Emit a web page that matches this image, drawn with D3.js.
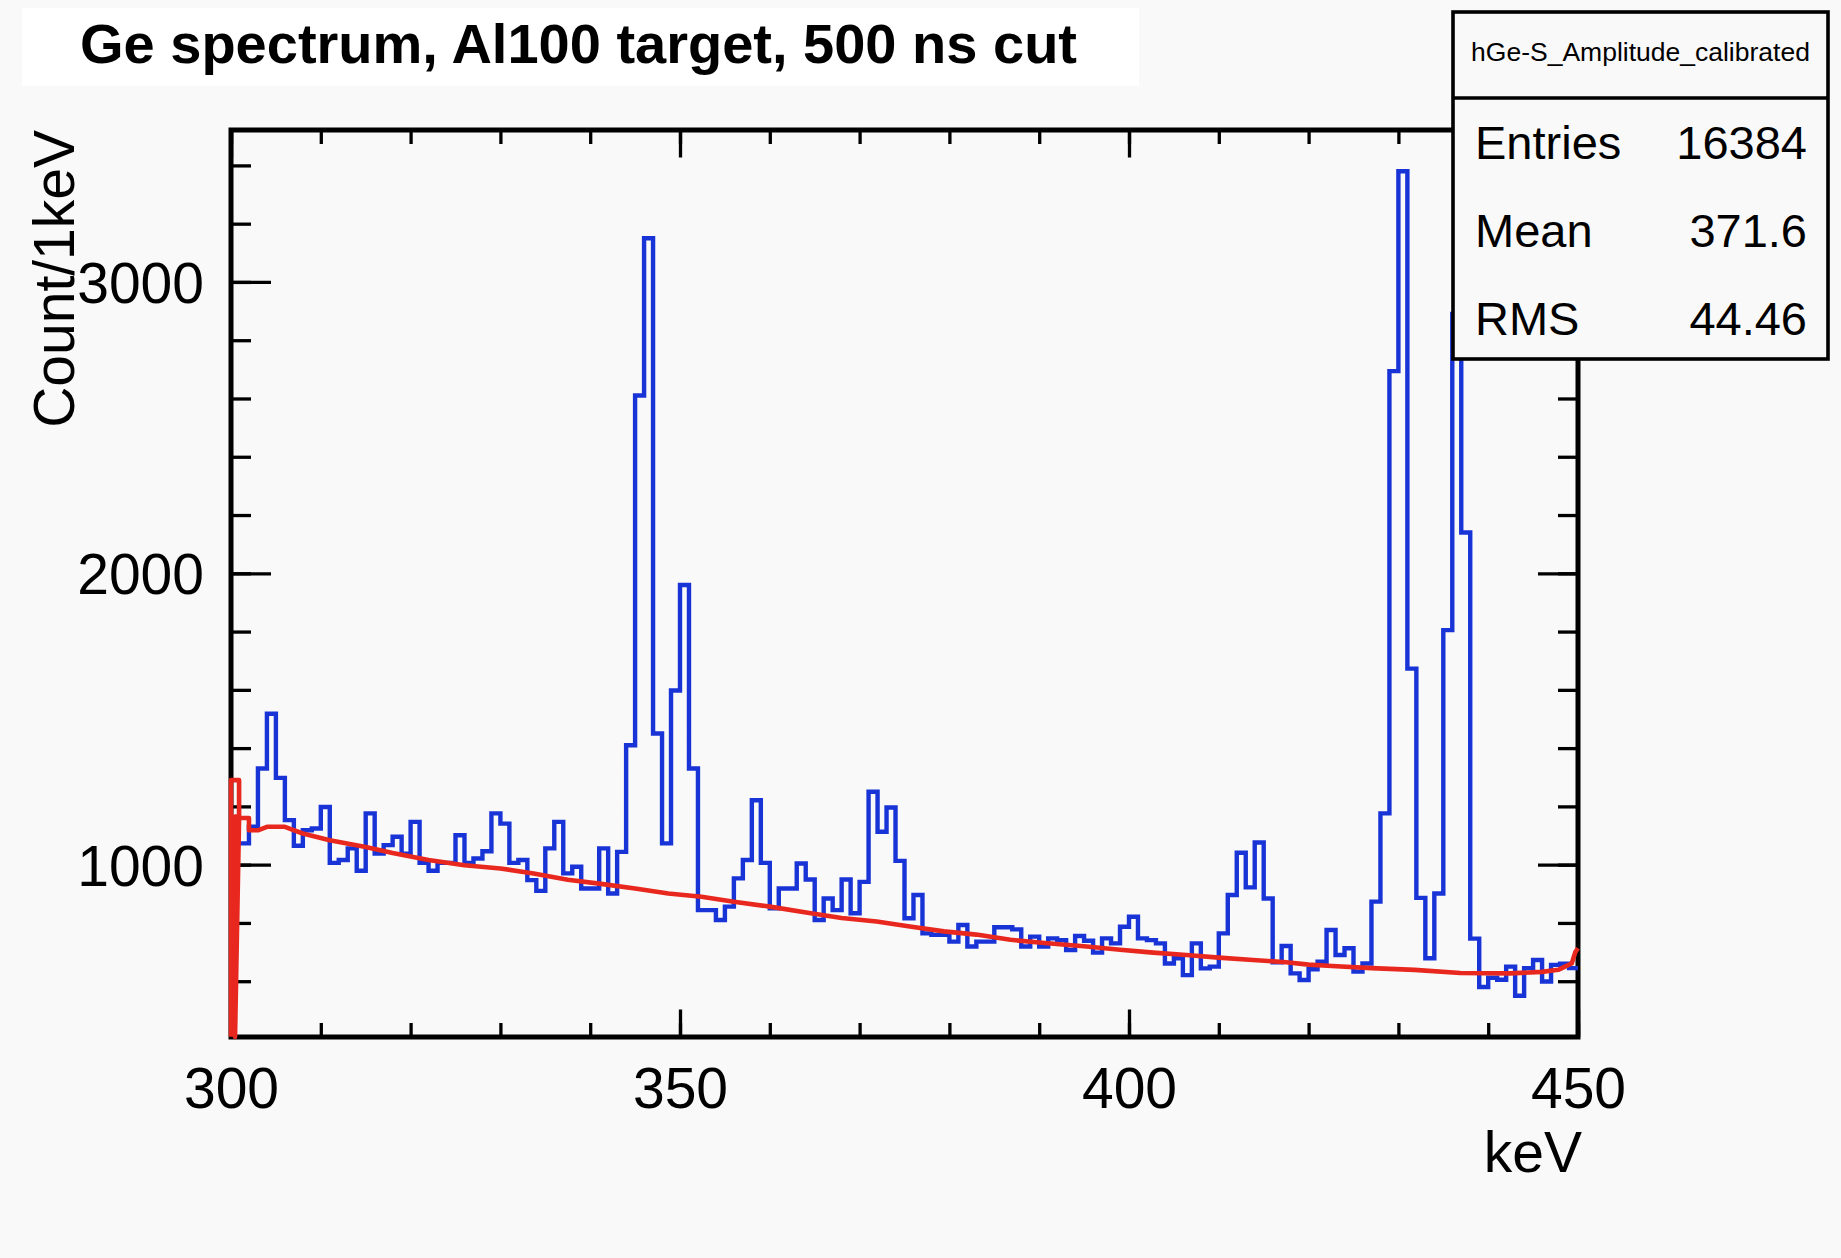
<!DOCTYPE html>
<html><head><meta charset="utf-8">
<script src="https://cdn.jsdelivr.net/npm/d3@7"></script>
<style>
html,body{margin:0;padding:0;background:#f9f9f9;}
svg{display:block;}
text{font-family:"Liberation Sans",Arial,Helvetica,sans-serif;fill:#000;}
</style></head><body>
<svg id="c" width="1841" height="1258"></svg>
<script>
// ---------------- data ----------------
const binStart = 300;   // keV, lower edge of first bin
const binWidth = 1;     // keV
const counts = [
 1073,1073,1130,1330,1518,1298,1153,1065,1118,1124,
 1198,1006,1016,1056, 979,1176,1038,1067,1096,1038,
 1147,1006, 979,1006,1006,1101,1006,1021,1046,1176,
 1141,1006,1016, 947, 910,1056,1147, 970, 993, 918,
  918,1056, 901,1044,1410,2610,3150,1450,1073,1598,
 1960,1330, 844, 844, 810, 856, 953,1016,1221,1006,
  850, 918, 918,1004, 949, 810, 884, 844, 949, 833,
  941,1250,1113,1196,1013, 816, 896, 764, 759, 759,
  736, 793, 719, 736, 736, 785, 785, 778, 719, 753,
  719, 747, 741, 707, 755, 739, 698, 747, 730, 787,
  821, 747, 741, 730, 661, 679, 621, 730, 644, 650,
  764, 896,1041, 922,1076, 884, 665, 721, 627, 604,
  641, 667, 776, 690, 713, 633, 661, 873,1176,2694,
 3380,1673, 886, 679, 901,1805,2890,2140, 746, 580,
  612, 605, 650, 550, 645, 673, 599, 656, 660, 645
];
// fitted background curve (red)
const fitX = [300,300,300.9,300.9,300.45,300.45,300.9,302,302,303,304,306,308,311,315,318,322,326,330,333.7,337.5,341,345,348.7,352.4,356,360,364.4,368,371.9,375.6,379.4,383,386.8,390.6,395.3,399,402.7,406.4,410,413.8,417.5,420,422.6,427,431.8,436.9,442.4,446,447.8,449.3,449.7,450];
const fitY = [409,1290,1290,1165,1165,409,1160,1160,1118,1118,1130,1130,1107,1084,1061,1040,1016,998,987,970,948,935,918,901,890,873,856,834,817,805,788,771,760,742,731,719,708,698,690,681,673,665,657,652,645,639,628,627,632,639,661,700,713];

const xMajor = [300,350,400,450];
const xMinor = d3.range(300, 451, 10);
const yMajor = [1000,2000,3000];
const yMinorStep = 200;

const titleText = "Ge spectrum, Al100 target, 500 ns cut";
const xTitle = "keV";
const yTitle = "Count/1keV";
const statsName = "hGe-S_Amplitude_calibrated";
const statsLabels = ["Entries","Mean","RMS"];
const statsValues = ["16384","371.6","44.46"];

// ---------------- layout ----------------
const W = 1841, H = 1258;
const frame = {l:231, r:1578, t:130, b:1037};
const svg = d3.select("#c");
const BG = "#f9f9f9";
svg.append("rect").attr("width",W).attr("height",H).attr("fill",BG);

const xLo = binStart, xHi = binStart + counts.length*binWidth;
const cMin = d3.min(counts), cMax = d3.max(counts);
const yLo = cMin - 0.05*(cMax-cMin), yHi = cMax + 0.05*(cMax-cMin);

const x = d3.scaleLinear().domain([xLo,xHi]).range([frame.l, frame.r]);
const y = d3.scaleLinear().domain([yLo,yHi]).range([frame.b, frame.t]);

// title box
svg.append("rect").attr("x",22).attr("y",8).attr("width",1117).attr("height",78).attr("fill","#ffffff");
svg.append("text").attr("x",80).attr("y",63).attr("font-size",56).attr("font-weight","bold").text(titleText);

// axes (ticks inside, on all four sides)
const fw = frame.r-frame.l, fh = frame.b-frame.t;
const xMajLen = 27.5, xMinLen = 14, yMajLen = 40, yMinLen = 20;
const yMinor = d3.range(Math.ceil(yLo/yMinorStep)*yMinorStep, yHi, yMinorStep);

function noDomain(g){ g.select(".domain").remove(); g.selectAll(".tick line").attr("stroke","#000").attr("stroke-width",3.3); }

svg.append("g").attr("transform",`translate(0,${frame.b})`)
  .call(d3.axisBottom(x).tickValues(xMinor).tickSize(-xMinLen).tickFormat(""))
  .call(noDomain);
svg.append("g").attr("transform",`translate(0,${frame.b})`)
  .call(d3.axisBottom(x).tickValues(xMajor).tickSize(-xMajLen).tickFormat(d3.format("d")))
  .call(noDomain)
  .call(g=>g.selectAll("text").attr("font-size",57).attr("fill","#000").attr("font-family",'"Liberation Sans",Arial,sans-serif').attr("y",71).attr("dy",0));
svg.append("g").attr("transform",`translate(0,${frame.t})`)
  .call(d3.axisTop(x).tickValues(xMinor).tickSize(-xMinLen).tickFormat(""))
  .call(noDomain);
svg.append("g").attr("transform",`translate(0,${frame.t})`)
  .call(d3.axisTop(x).tickValues(xMajor).tickSize(-xMajLen).tickFormat(""))
  .call(noDomain);

svg.append("g").attr("transform",`translate(${frame.l},0)`)
  .call(d3.axisLeft(y).tickValues(yMinor).tickSize(-yMinLen).tickFormat(""))
  .call(noDomain);
svg.append("g").attr("transform",`translate(${frame.l},0)`)
  .call(d3.axisLeft(y).tickValues(yMajor).tickSize(-yMajLen).tickFormat(d3.format("d")))
  .call(noDomain)
  .call(g=>g.selectAll("text").attr("font-size",57).attr("fill","#000").attr("font-family",'"Liberation Sans",Arial,sans-serif').attr("x",-27).attr("dy","0.36em"));
svg.append("g").attr("transform",`translate(${frame.r},0)`)
  .call(d3.axisRight(y).tickValues(yMinor).tickSize(-yMinLen).tickFormat(""))
  .call(noDomain);
svg.append("g").attr("transform",`translate(${frame.r},0)`)
  .call(d3.axisRight(y).tickValues(yMajor).tickSize(-yMajLen).tickFormat(""))
  .call(noDomain);

// frame
svg.append("rect").attr("x",frame.l).attr("y",frame.t).attr("width",fw).attr("height",fh)
  .attr("fill","none").attr("stroke","#000").attr("stroke-width",5);

// axis titles
svg.append("text").attr("x",frame.r+4).attr("y",1172).attr("text-anchor","end").attr("font-size",57).text(xTitle);
svg.append("text").attr("transform",`translate(74,${frame.t}) rotate(-90)`).attr("text-anchor","end").attr("font-size",57).text(yTitle);

// histogram (step outline)
const stepPts = counts.map((c,i)=>[binStart+i*binWidth, c]);
stepPts.push([xHi, counts[counts.length-1]]);
const stepLine = d3.line().x(d=>x(d[0])).y(d=>y(d[1])).curve(d3.curveStepAfter);
svg.append("path").attr("d",stepLine(stepPts)).attr("fill","none")
  .attr("stroke","#1834d6").attr("stroke-width",4.4).attr("stroke-linejoin","miter");

// fit curve
const fitLine = d3.line().x((d,i)=>x(fitX[i])).y((d,i)=>y(fitY[i]));
svg.append("path").attr("d",fitLine(fitX)).attr("fill","none")
  .attr("stroke","#e8281e").attr("stroke-width",4.6).attr("stroke-linejoin","round");

// stats box
const sb = {x:1453, y:12, w:375, h:347, div:98};
svg.append("rect").attr("x",sb.x).attr("y",sb.y).attr("width",sb.w).attr("height",sb.h)
  .attr("fill",BG).attr("stroke","#000").attr("stroke-width",3.6);
svg.append("line").attr("x1",sb.x).attr("x2",sb.x+sb.w).attr("y1",sb.div).attr("y2",sb.div)
  .attr("stroke","#000").attr("stroke-width",3.6);
svg.append("text").attr("x",sb.x+sb.w/2).attr("y",61).attr("text-anchor","middle").attr("font-size",26.5).text(statsName);
const rowBase = [159,247,335];
statsLabels.forEach((s,i)=>{
  svg.append("text").attr("x",1475).attr("y",rowBase[i]).attr("font-size",47).text(s);
  svg.append("text").attr("x",1807).attr("y",rowBase[i]).attr("text-anchor","end").attr("font-size",47).text(statsValues[i]);
});
</script>
</body></html>
